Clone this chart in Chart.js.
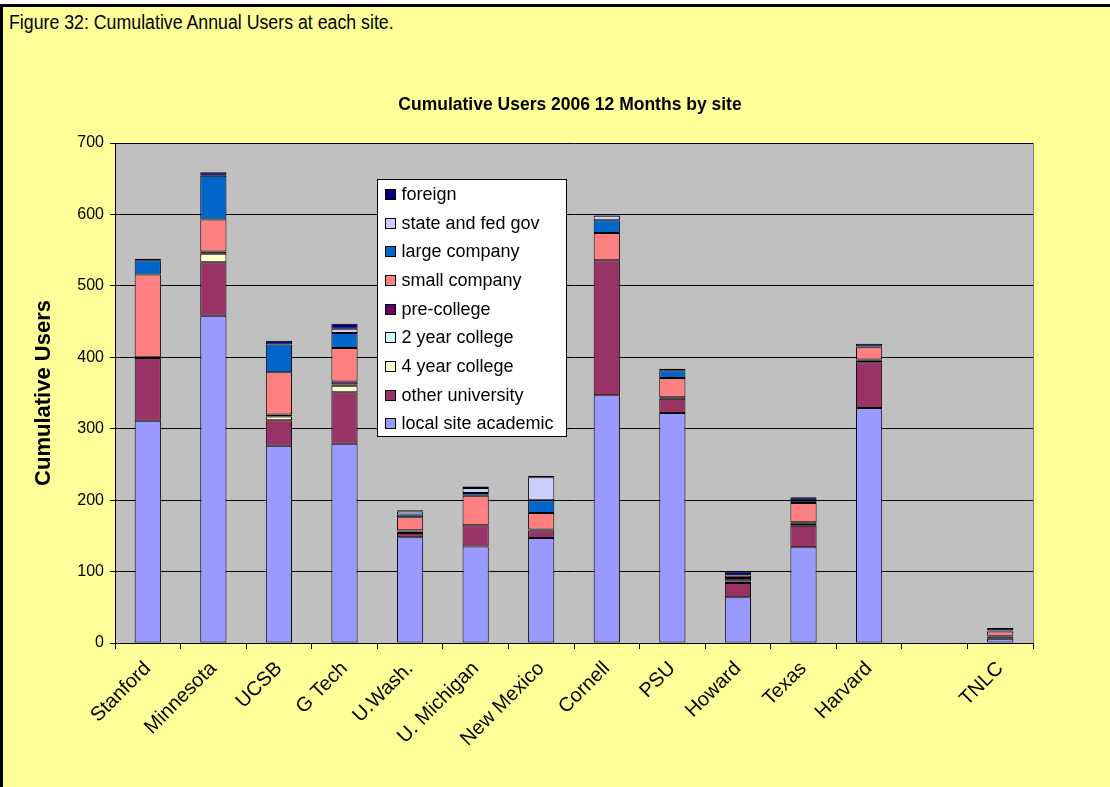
<!DOCTYPE html>
<html>
<head>
<meta charset="utf-8">
<script src="https://cdn.jsdelivr.net/npm/chart.js@4"></script>
<style>
html,body{margin:0;padding:0;background:#fff;}
#wrap{position:absolute;left:0;top:0;width:1110px;height:787px;overflow:hidden;background:#fff;}
#bg{position:absolute;left:0;top:4px;width:1110px;height:783px;background:#FFFF99;border-top:3px solid #000;border-left:3px solid #000;box-sizing:border-box;}
#cap{position:absolute;left:9px;top:12px;font-family:"Liberation Sans",Arial,sans-serif;font-size:20px;line-height:20px;white-space:nowrap;color:#000;transform-origin:0 0;}
#c{position:absolute;left:0;top:0;}
</style>
</head>
<body>
<div id="wrap">
  <div id="bg"></div>
  <div id="cap">Figure 32: Cumulative Annual Users at each site.</div>
  <canvas id="c" width="1110" height="787"></canvas>
</div>
<script>
// ---- data ----
const categories = ['Stanford','Minnesota','UCSB','G Tech','U.Wash.','U. Michigan','New Mexico','Cornell','PSU','Howard','Texas','Harvard','','TNLC'];
const localSiteAcademic = [311,458,276,279,148,135,147,347,322,64,134,329,null,6];
const otherUniversity   = [88,75,36,72,6,30,11,189,20,20,30,64,null,3];
const fourYearCollege   = [0,12,5,9,2,0,0,0,0,2,3,3,null,0];
const twoYearCollege    = [0,0,0,2,1,0,0,0,0,1,0,0,null,0];
const preCollege        = [1,3,3,4,1,0,1,0,2,4,2,1,null,1];
const smallCompany      = [116,45,59,47,18,41,23,38,27,3,27,17,null,6];
const largeCompany      = [20,61,39,21,4,4,18,18,11,1,3,1,null,1];
const stateFedGov       = [0,0,0,6,4,7,32,6,0,0,1,0,null,1];
const foreign           = [2,5,5,7,2,2,2,1,2,5,4,4,null,3];
const seriesNames = ['local site academic','other university','4 year college','2 year college','pre-college','small company','large company','state and fed gov','foreign'];
const seriesValues = [localSiteAcademic,otherUniversity,fourYearCollege,twoYearCollege,preCollege,smallCompany,largeCompany,stateFedGov,foreign];
const seriesColors = ['#9999FF','#993366','#FFFFCC','#CCFFFF','#660066','#FF8080','#0066CC','#CCCCFF','#000080'];
const yTicks = [0,100,200,300,400,500,600,700];
const chartTitle = 'Cumulative Users 2006 12 Months by site';
const yTitle = 'Cumulative Users';

const FONT = '"Liberation Sans", Arial, sans-serif';

// fit caption width
(function(){
  const cap = document.getElementById('cap');
  const w = cap.offsetWidth;
  if (w > 0) cap.style.transform = 'scaleX(' + (385 / w) + ')';
})();

const datasets = seriesNames.map((n,i)=>({
  label:n,
  data:seriesValues[i],
  backgroundColor:seriesColors[i],
  borderColor:'#000',
  borderWidth:1,
  borderSkipped:false,
  barPercentage:0.4,
  categoryPercentage:1.0
}));

const decor = {
  id:'decor',
  beforeDraw(chart){
    const {ctx, chartArea:a} = chart;
    ctx.save();
    ctx.fillStyle = '#C0C0C0';
    ctx.fillRect(a.left, a.top, a.right-a.left, a.bottom-a.top);
    ctx.restore();
  },
  afterDraw(chart){
    const {ctx, chartArea:a} = chart;
    ctx.save();
    ctx.strokeStyle = '#808080';
    ctx.lineWidth = 1;
    ctx.beginPath();
    ctx.moveTo(Math.round(a.right)+0.5, a.top);
    ctx.lineTo(Math.round(a.right)+0.5, a.bottom);
    ctx.stroke();
    // chart title
    ctx.fillStyle = '#000';
    ctx.font = 'bold 17.5px ' + FONT;
    ctx.textAlign = 'center';
    ctx.textBaseline = 'alphabetic';
    ctx.fillText(chartTitle, 570, 110);
    // legend (reversed order)
    const lx = a.left + 262.5, ly = a.top + 36.5, lw = 189, lh = 257;
    ctx.fillStyle = '#fff';
    ctx.fillRect(lx, ly, lw, lh);
    ctx.strokeStyle = '#000';
    ctx.strokeRect(lx, ly, lw, lh);
    ctx.font = '18px ' + FONT;
    ctx.textAlign = 'left';
    ctx.textBaseline = 'middle';
    const ds = chart.data.datasets;
    for (let k=0; k<ds.length; k++){
      const d = ds[ds.length-1-k];
      const cy = ly + 14.5 + k*28.66;
      ctx.fillStyle = d.backgroundColor;
      ctx.fillRect(lx+8, Math.round(cy-5)+0.5, 10, 10);
      ctx.strokeStyle = '#000';
      ctx.strokeRect(lx+8, Math.round(cy-5)+0.5, 10, 10);
      ctx.fillStyle = '#000';
      ctx.fillText(d.label, lx+24, cy+1);
    }
    ctx.restore();
  }
};

new Chart(document.getElementById('c'), {
  type:'bar',
  data:{labels:categories, datasets},
  options:{
    responsive:false,
    animation:false,
    layout:{padding:{left:31, top:143, right:77, bottom:0}},
    plugins:{legend:{display:false}, title:{display:false}, tooltip:{enabled:false}},
    scales:{
      x:{
        stacked:true,
        afterFit(s){ s.height = 144; },
        grid:{display:true, drawOnChartArea:false, drawTicks:true, tickLength:6, color:'#000', offset:true},
        border:{display:true, color:'#000', width:1},
        ticks:{autoSkip:false, maxRotation:45, minRotation:45, color:'#000', font:{family:FONT, size:20}, padding:8}
      },
      y:{
        stacked:true,
        min:0, max:700,
        afterFit(s){ s.width = 84; },
        afterBuildTicks(s){ s.ticks = yTicks.map(v=>({value:v})); },
        grid:{color:'#000', lineWidth:1, drawTicks:true, tickLength:5, tickColor:'#000'},
        border:{display:true, color:'#000', width:1},
        ticks:{color:'#000', font:{family:FONT, size:16}, padding:6},
        title:{display:true, text:yTitle, color:'#000', font:{family:FONT, size:22, weight:'bold'}, padding:{top:0,bottom:0}}
      }
    }
  },
  plugins:[decor]
});
</script>
</body>
</html>
